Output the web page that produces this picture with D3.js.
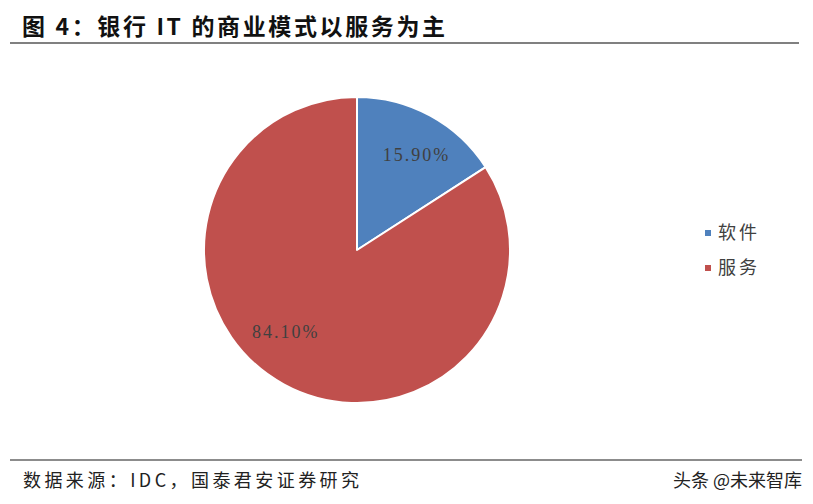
<!DOCTYPE html>
<html><head><meta charset="utf-8">
<script src="https://cdn.jsdelivr.net/npm/d3@7/dist/d3.min.js"></script>
<style>body{margin:0;background:#fff}</style>
</head><body>
<svg id="c" width="813" height="504"></svg>
<script>
const categories = ["软件", "服务"];
const values = [15.90, 84.10];
const labels = ["15.90%", "84.10%"];
const colors = ["#4F81BD", "#C0504D"];

const svg = d3.select("#c");
const W = 813, H = 504;
svg.append("rect").attr("width", W).attr("height", H).attr("fill", "#fff");

// title
svg.append("text").attr("x", 22).attr("y", 35)
  .attr("font-family", "'Noto Sans CJK SC', sans-serif").attr("font-weight", "bold")
  .attr("font-size", 23).attr("fill", "#111")
  .attr("textLength", 423).attr("lengthAdjust", "spacing")
  .text("图 4：银行 IT 的商业模式以服务为主");
svg.append("line").attr("x1", 10).attr("x2", 799).attr("y1", 43).attr("y2", 43)
  .attr("stroke", "#808080").attr("stroke-width", 2);

// pie
const cx = 357, cy = 250, r = 153;
const pie = d3.pie().sort(null).value(d => d)(values);
const arc = d3.arc().innerRadius(0).outerRadius(r);
const g = svg.append("g").attr("transform", `translate(${cx},${cy})`);
g.selectAll("path").data(pie).join("path")
  .attr("d", arc).attr("fill", (d, i) => colors[i])
  .attr("stroke", "#fff").attr("stroke-width", 2).attr("stroke-linejoin", "round");

// label placement (angle shift in radians, radius)
const labelShift = [0.06, 0.22];
const labelR = [112, 108];
g.selectAll("text.lbl").data(pie).join("text").attr("class", "lbl")
  .attr("transform", (d, i) => {
    const a = (d.startAngle + d.endAngle) / 2 + labelShift[i];
    return `translate(${labelR[i] * Math.sin(a)},${-labelR[i] * Math.cos(a)})`;
  })
  .attr("text-anchor", "middle").attr("dy", "0.35em")
  .attr("font-family", "'Liberation Serif', serif").attr("font-size", 18)
  .attr("fill", "#404040").attr("letter-spacing", 2)
  .text((d, i) => labels[i]);

// legend
const lg = svg.append("g").attr("transform", "translate(705,233)");
categories.forEach((c, i) => {
  const y = i * 35;
  lg.append("rect").attr("x", 0).attr("y", y - 3).attr("width", 6).attr("height", 6).attr("fill", colors[i]);
  lg.append("text").attr("x", 13).attr("y", y).attr("dy", "0.35em")
    .attr("font-family", "'Noto Sans CJK SC', sans-serif").attr("font-size", 18)
    .attr("fill", "#404040").attr("letter-spacing", 3).text(c);
});

// footer
svg.append("line").attr("x1", 10).attr("x2", 802).attr("y1", 460).attr("y2", 460)
  .attr("stroke", "#666").attr("stroke-width", 1.5);
svg.append("text").attr("x", 23).attr("y", 487)
  .attr("font-family", "'Noto Sans CJK SC', sans-serif").attr("font-size", 18)
  .attr("fill", "#222").attr("textLength", 336).attr("lengthAdjust", "spacing")
  .text("数据来源：IDC，国泰君安证券研究");
svg.append("text").attr("x", 802).attr("y", 487).attr("text-anchor", "end")
  .attr("font-family", "'Noto Sans CJK SC', sans-serif").attr("font-size", 18)
  .attr("fill", "#222").text("头条 @未来智库");
</script>
</body></html>
